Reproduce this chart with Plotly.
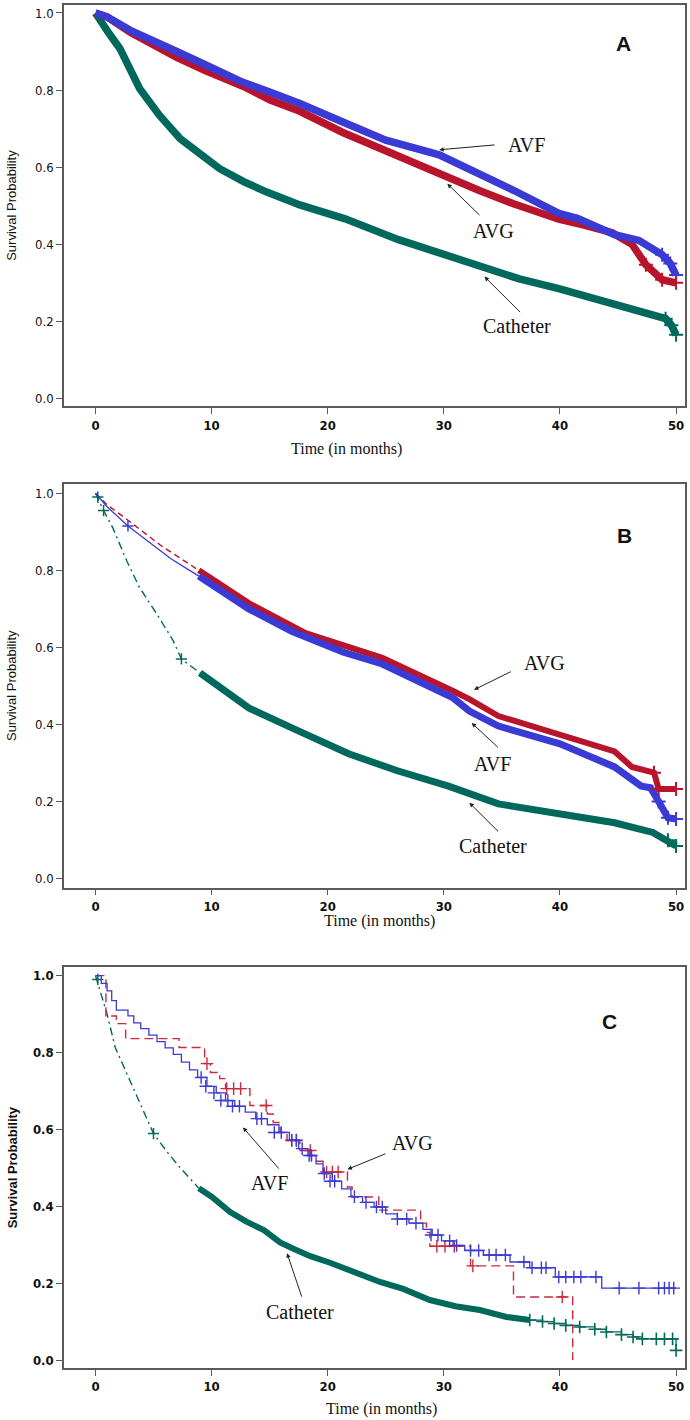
import plotly.graph_objects as go

# ---------------- Panel A (dense bands) ----------------
a_avf_t = [0, 1, 3, 5, 7, 9.5, 12.7, 15, 17.6, 21.3, 25, 29.6, 33, 36, 39.9, 41.5, 44.7, 46.8, 48.8, 49.5, 50]
a_avf_s = [1.0, 0.99, 0.955, 0.925, 0.90, 0.865, 0.82, 0.795, 0.765, 0.717, 0.67, 0.632, 0.585, 0.54, 0.48, 0.467, 0.425, 0.41, 0.373, 0.35, 0.32]
a_avg_t = [0, 1, 3, 5, 7, 9.5, 12.7, 15, 17.6, 21.3, 26.1, 30.3, 33, 36, 39.9, 42, 44.5, 46.2, 47.4, 48.8, 50]
a_avg_s = [1.0, 0.99, 0.95, 0.915, 0.885, 0.85, 0.81, 0.775, 0.745, 0.69, 0.627, 0.575, 0.54, 0.505, 0.465, 0.45, 0.43, 0.40, 0.347, 0.308, 0.30]
a_cat_t = [0, 0.5, 1.1, 2.1, 3, 3.8, 5.5, 7.3, 9, 10.7, 12.8, 14.7, 17.6, 21.5, 26.1, 30, 33.4, 36.5, 39.9, 43, 46.8, 49.1, 49.6, 50]
a_cat_s = [1.0, 0.975, 0.95, 0.908, 0.85, 0.804, 0.735, 0.674, 0.635, 0.596, 0.562, 0.536, 0.502, 0.466, 0.412, 0.373, 0.337, 0.31, 0.285, 0.26, 0.23, 0.207, 0.19, 0.165]

# ---------------- Panel B ----------------
b_avf_thin_t = [0, 1, 2.8, 4.5, 6.5, 8.9]
b_avf_thin_s = [1.0, 0.965, 0.915, 0.875, 0.83, 0.785]
b_avf_t = [8.9, 13.2, 16.9, 21.3, 24.7, 30.8, 32.2, 34.7, 40, 44.7, 47, 47.8, 48.5, 49.3, 50]
b_avf_s = [0.785, 0.70, 0.642, 0.588, 0.557, 0.469, 0.435, 0.396, 0.35, 0.29, 0.24, 0.236, 0.20, 0.158, 0.155]
b_avg_thin_t = [0, 1, 2.8, 5.6, 8.9]
b_avg_thin_s = [1.0, 0.97, 0.93, 0.865, 0.80]
b_avg_t = [8.9, 13.2, 18.1, 21.3, 24.7, 30.8, 32.2, 34.7, 40, 44.7, 46.2, 48.1, 48.5, 50]
b_avg_s = [0.80, 0.715, 0.637, 0.604, 0.573, 0.487, 0.466, 0.422, 0.375, 0.33, 0.29, 0.275, 0.233, 0.233]
b_cat_thin_t = [0, 0.7, 1.5, 2.7, 3.8, 5.3, 6.7, 7.4, 9.0]
b_cat_thin_s = [1.0, 0.955, 0.91, 0.824, 0.755, 0.686, 0.617, 0.57, 0.534]
b_cat_t = [9.0, 13.2, 17, 21.8, 26, 30.4, 34.7, 40, 44.7, 48, 49.3, 50]
b_cat_s = [0.534, 0.443, 0.39, 0.324, 0.28, 0.24, 0.194, 0.168, 0.145, 0.12, 0.10, 0.085]
b_marks_avf_t, b_marks_avf_s = [2.8], [0.915]
b_marks_cat_t, b_marks_cat_s = [0.2, 0.7, 7.4], [0.99, 0.955, 0.57]

# ---------------- Panel C ----------------
c_avf_t = [0, 0.5, 1.0, 1.4, 1.8, 2.8, 3.3, 3.9, 4.6, 5.3, 6.0, 6.7, 7.4, 8.1, 8.8, 9.6, 10.4, 11.2, 12.0, 12.9, 13.8,
           14.8, 15.8, 16.7, 17.5, 18.3, 19.0, 19.6, 20.4, 21.2, 22.0, 23.0, 24.0, 25.0, 26.0, 27.0, 28.2, 29.0, 29.8,
           30.8, 31.8, 33.4, 35.7, 37.4, 39.6, 43.6, 50.0]
c_avf_s = [1.0, 0.98, 0.96, 0.935, 0.91, 0.895, 0.877, 0.862, 0.845, 0.828, 0.812, 0.795, 0.775, 0.755, 0.735, 0.712,
           0.695, 0.675, 0.66, 0.645, 0.628, 0.612, 0.592, 0.572, 0.55, 0.532, 0.51, 0.485, 0.465, 0.445, 0.425, 0.41,
           0.398, 0.38, 0.367, 0.356, 0.34, 0.325, 0.31, 0.298, 0.285, 0.273, 0.255, 0.24, 0.216, 0.187, 0.187]
c_avf_cens_t = [9.1, 9.5, 10.2, 10.8, 11.4, 11.8, 12.4, 13.9, 14.3, 15.4, 16.0, 16.9, 17.3, 17.8, 18.4, 18.6, 19.7, 20.2, 20.6,
                22.3, 23.3, 24.2, 24.7, 26.0, 26.8, 27.6, 28.9, 29.5, 30.5, 31.1, 32.3, 33.0, 33.9, 34.5, 35.3, 36.9, 37.6,
                38.4, 38.8, 39.9, 40.5, 41.2, 41.8, 43.1, 45.1, 46.8, 48.5, 49.0, 49.4, 49.8]
c_avf_cens_s = [0.735, 0.712, 0.695, 0.675, 0.675, 0.66, 0.66, 0.628, 0.628, 0.592, 0.592, 0.572, 0.572, 0.55, 0.532, 0.532,
                0.485, 0.465, 0.465, 0.425, 0.41, 0.398, 0.398, 0.367, 0.367, 0.356, 0.325, 0.325, 0.31, 0.298, 0.285,
                0.285, 0.273, 0.273, 0.273, 0.255, 0.24, 0.24, 0.24, 0.216, 0.216, 0.216, 0.216, 0.216, 0.187, 0.187,
                0.187, 0.187, 0.187, 0.187]
c_avg_t = [0, 0.9, 1.8, 2.6, 7.2, 9.4, 9.9, 10.7, 11.2, 13.3, 14.8, 15.3, 15.9, 16.5, 17.6, 18.6, 19.6, 21.7, 22.1, 24.4,
           28.0, 28.5, 28.8, 32.3, 36.0, 41.1]
c_avg_s = [1.0, 0.895, 0.875, 0.836, 0.813, 0.771, 0.748, 0.732, 0.706, 0.662, 0.64, 0.618, 0.592, 0.571, 0.545, 0.517,
           0.489, 0.45, 0.424, 0.39, 0.356, 0.332, 0.296, 0.245, 0.164, 0.0]
c_avg_cens_t = [9.6, 11.3, 11.9, 12.5, 14.7, 16.9, 17.3, 18.5, 19.9, 20.4, 20.9, 29.4, 30.1, 30.9, 32.5, 40.2]
c_avg_cens_s = [0.771, 0.706, 0.706, 0.706, 0.662, 0.571, 0.571, 0.545, 0.489, 0.489, 0.489, 0.296, 0.296, 0.296, 0.245, 0.164]
c_cat_thin_t = [0, 0.5, 1.0, 1.7, 2.7, 3.9, 5.0, 6.2, 7.3, 8.9]
c_cat_thin_s = [1.0, 0.95, 0.90, 0.813, 0.745, 0.667, 0.589, 0.54, 0.50, 0.447]
c_cat_t = [8.9, 10, 11.6, 13, 14.5, 15.9, 17, 18.5, 20.2, 22, 24.5, 26.5, 28.8, 31, 33.1, 35.4, 37.4]
c_cat_s = [0.447, 0.425, 0.385, 0.36, 0.338, 0.306, 0.29, 0.27, 0.253, 0.232, 0.203, 0.185, 0.156, 0.14, 0.13, 0.112, 0.104]
c_cat_tail_t = [37.4, 38.5, 39.5, 40.5, 41.7, 43, 44, 45.3, 46.3, 47.1, 48.3, 49, 49.7, 50]
c_cat_tail_s = [0.104, 0.1, 0.095, 0.09, 0.086, 0.08, 0.073, 0.066, 0.06, 0.055, 0.055, 0.055, 0.055, 0.025]
c_marks_cat_t, c_marks_cat_s = [0.2, 5.0], [0.99, 0.589]

x_ticks = [0, 10, 20, 30, 40, 50]
y_ticks = [0.0, 0.2, 0.4, 0.6, 0.8, 1.0]

BLUE = "#3a3ad4"
RED = "#b8142c"
RED_C = "#cc2a3c"
TEAL = "#00695c"

fig = go.Figure()


def line(x, y, color, width, xa, ya, dash=None, shape="linear"):
    fig.add_trace(go.Scatter(x=x, y=y, mode="lines", line=dict(color=color, width=width, dash=dash, shape=shape),
                             xaxis=xa, yaxis=ya, showlegend=False, hoverinfo="skip"))


def marks(x, y, color, xa, ya, size=8, lw=1.5):
    fig.add_trace(go.Scatter(x=x, y=y, mode="markers",
                             marker=dict(symbol="cross-thin", size=size, line=dict(color=color, width=lw)),
                             xaxis=xa, yaxis=ya, showlegend=False, hoverinfo="skip"))


# Panel A
line(a_cat_t, a_cat_s, TEAL, 7.5, "x", "y")
line(a_avg_t, a_avg_s, RED, 7.5, "x", "y")
line(a_avf_t, a_avf_s, BLUE, 7.5, "x", "y")
marks(a_avf_t[-3:], a_avf_s[-3:], BLUE, "x", "y", 10, 2)
marks(a_avg_t[-3:], a_avg_s[-3:], RED, "x", "y", 10, 2)
marks(a_cat_t[-3:], a_cat_s[-3:], TEAL, "x", "y", 10, 2)

# Panel B
line(b_cat_thin_t, b_cat_thin_s, TEAL, 1.4, "x2", "y2", dash="8px,4px,2px,4px")
line(b_avg_thin_t, b_avg_thin_s, RED, 1.4, "x2", "y2", dash="6px,4px")
line(b_avf_thin_t, b_avf_thin_s, BLUE, 1.3, "x2", "y2")
line(b_cat_t, b_cat_s, TEAL, 7, "x2", "y2")
line(b_avg_t, b_avg_s, RED, 6, "x2", "y2")
line(b_avf_t, b_avf_s, BLUE, 7, "x2", "y2")
marks(b_marks_avf_t, b_marks_avf_s, BLUE, "x2", "y2")
marks(b_marks_cat_t, b_marks_cat_s, TEAL, "x2", "y2")
marks(b_avg_t[-3:], b_avg_s[-3:], RED, "x2", "y2", 10, 2)
marks(b_avf_t[-3:], b_avf_s[-3:], BLUE, "x2", "y2", 10, 2)
marks(b_cat_t[-2:], b_cat_s[-2:], TEAL, "x2", "y2", 10, 2)

# Panel C
line(c_cat_thin_t, c_cat_thin_s, TEAL, 1.4, "x3", "y3", dash="8px,4px,2px,4px")
line(c_cat_t, c_cat_s, TEAL, 6, "x3", "y3")
line(c_cat_tail_t, c_cat_tail_s, TEAL, 1.3, "x3", "y3", shape="hv")
marks(c_cat_tail_t, c_cat_tail_s, TEAL, "x3", "y3", 9, 1.6)
marks(c_marks_cat_t, c_marks_cat_s, TEAL, "x3", "y3")
line(c_avg_t, c_avg_s, RED_C, 1.4, "x3", "y3", dash="9px,5px", shape="hv")
marks(c_avg_cens_t, c_avg_cens_s, RED_C, "x3", "y3", 9, 1.4)
line(c_avf_t, c_avf_s, BLUE, 1.3, "x3", "y3", shape="hv")
marks(c_avf_cens_t, c_avf_cens_s, BLUE, "x3", "y3", 9, 1.4)

AX = dict(showline=True, mirror=True, linecolor="#5a5a5a", linewidth=1.5, ticks="outside", ticklen=6,
          tickwidth=1.2, tickcolor="#5a5a5a", showgrid=False, zeroline=False)
TICKFONT = "Liberation Sans Narrow, DejaVu Sans Condensed, Arial Narrow, sans-serif"

layout = dict(width=690, height=1420, margin=dict(l=64, r=4, t=3, b=52),
              paper_bgcolor="white", plot_bgcolor="white", showlegend=False)
domains_y = [[0.7055, 1.0], [0.3524, 0.6484], [0.0, 0.2945]]
y_ranges = [[-0.0207, 1.0207], [-0.0233, 1.0233], [-0.0208, 1.0234]]
for i, (dom, yr) in enumerate(zip(domains_y, y_ranges)):
    sx = "" if i == 0 else str(i + 1)
    layout["xaxis" + sx] = dict(AX, domain=[0, 1], anchor="y" + sx, range=[-2.71, 50.77], tickvals=x_ticks,
                                tickfont=dict(family=TICKFONT, size=13, color="#111", weight="bold"))
    layout["yaxis" + sx] = dict(AX, domain=dom, anchor="x" + sx, range=yr, tickvals=y_ticks, tickformat=".1f",
                                tickfont=dict(family=TICKFONT, size=13, color="#111",
                                              weight="bold" if i == 2 else "normal"))
fig.update_layout(**layout)

SERIF = "Liberation Serif, Times New Roman, serif"
ann = []


def arrow(xr, yr, hx, hy, tx, ty):
    ann.append(dict(x=hx, y=hy, ax=tx, ay=ty, xref=xr, yref=yr, axref=xr, ayref=yr, text="", showarrow=True,
                    arrowhead=2, arrowsize=0.9, arrowwidth=1, arrowcolor="#222"))


def label(xr, yr, x, y, text, size=20, family=SERIF, weight="normal"):
    ann.append(dict(x=x, y=y, xref=xr, yref=yr, text=text, showarrow=False,
                    font=dict(family=family, size=size, color="#111", weight=weight)))


# Panel A annotations
label("x", "y", 37.1, 0.658, "AVF")
arrow("x", "y", 29.6, 0.645, 34.5, 0.658)
label("x", "y", 34.3, 0.435, "AVG")
arrow("x", "y", 30.3, 0.557, 33.2, 0.472)
label("x", "y", 36.3, 0.187, "Catheter")
arrow("x", "y", 33.5, 0.316, 36.7, 0.220)
label("x", "y", 45.5, 0.92, "A", 21, "Liberation Sans, Arial, sans-serif", "bold")

# Panel B annotations
label("x2", "y2", 38.65, 0.56, "AVG")
arrow("x2", "y2", 32.6, 0.49, 35.9, 0.539)
label("x2", "y2", 34.2, 0.298, "AVF")
arrow("x2", "y2", 32.4, 0.404, 34.8, 0.337)
label("x2", "y2", 34.2, 0.0855, "Catheter")
arrow("x2", "y2", 32.2, 0.197, 34.8, 0.119)
label("x2", "y2", 45.6, 0.891, "B", 21, "Liberation Sans, Arial, sans-serif", "bold")

# Panel C annotations
label("x3", "y3", 27.3, 0.564, "AVG")
arrow("x3", "y3", 21.7, 0.496, 25.1, 0.538)
label("x3", "y3", 15.0, 0.46, "AVF")
arrow("x3", "y3", 12.7, 0.605, 15.9, 0.494)
label("x3", "y3", 17.6, 0.125, "Catheter")
arrow("x3", "y3", 16.5, 0.278, 17.8, 0.161)
label("x3", "y3", 44.3, 0.881, "C", 21, "Liberation Sans, Arial, sans-serif", "bold")

# Axis titles
for yc, w in [(0.8527, "normal"), (0.5004, "normal"), (0.1473, "bold")]:
    ann.append(dict(x=-0.0836, y=yc, xref="paper", yref="paper", text="Survival Probability", textangle=-90,
                    showarrow=False, xanchor="center", yanchor="middle",
                    font=dict(family="Liberation Sans, Arial, sans-serif", size=13, color="#111", weight=w)))
for xc, yc in [(0.455, 0.674), (0.508, 0.328), (0.511, -0.030)]:
    ann.append(dict(x=xc, y=yc, xref="paper", yref="paper", text="Time (in months)", showarrow=False,
                    xanchor="center", yanchor="middle", font=dict(family=SERIF, size=16, color="#111")))

fig.update_layout(annotations=ann)
fig.write_html("out.html", config={"displayModeBar": False},
               post_script="document.body.style.margin='0';document.body.style.padding='0';")
